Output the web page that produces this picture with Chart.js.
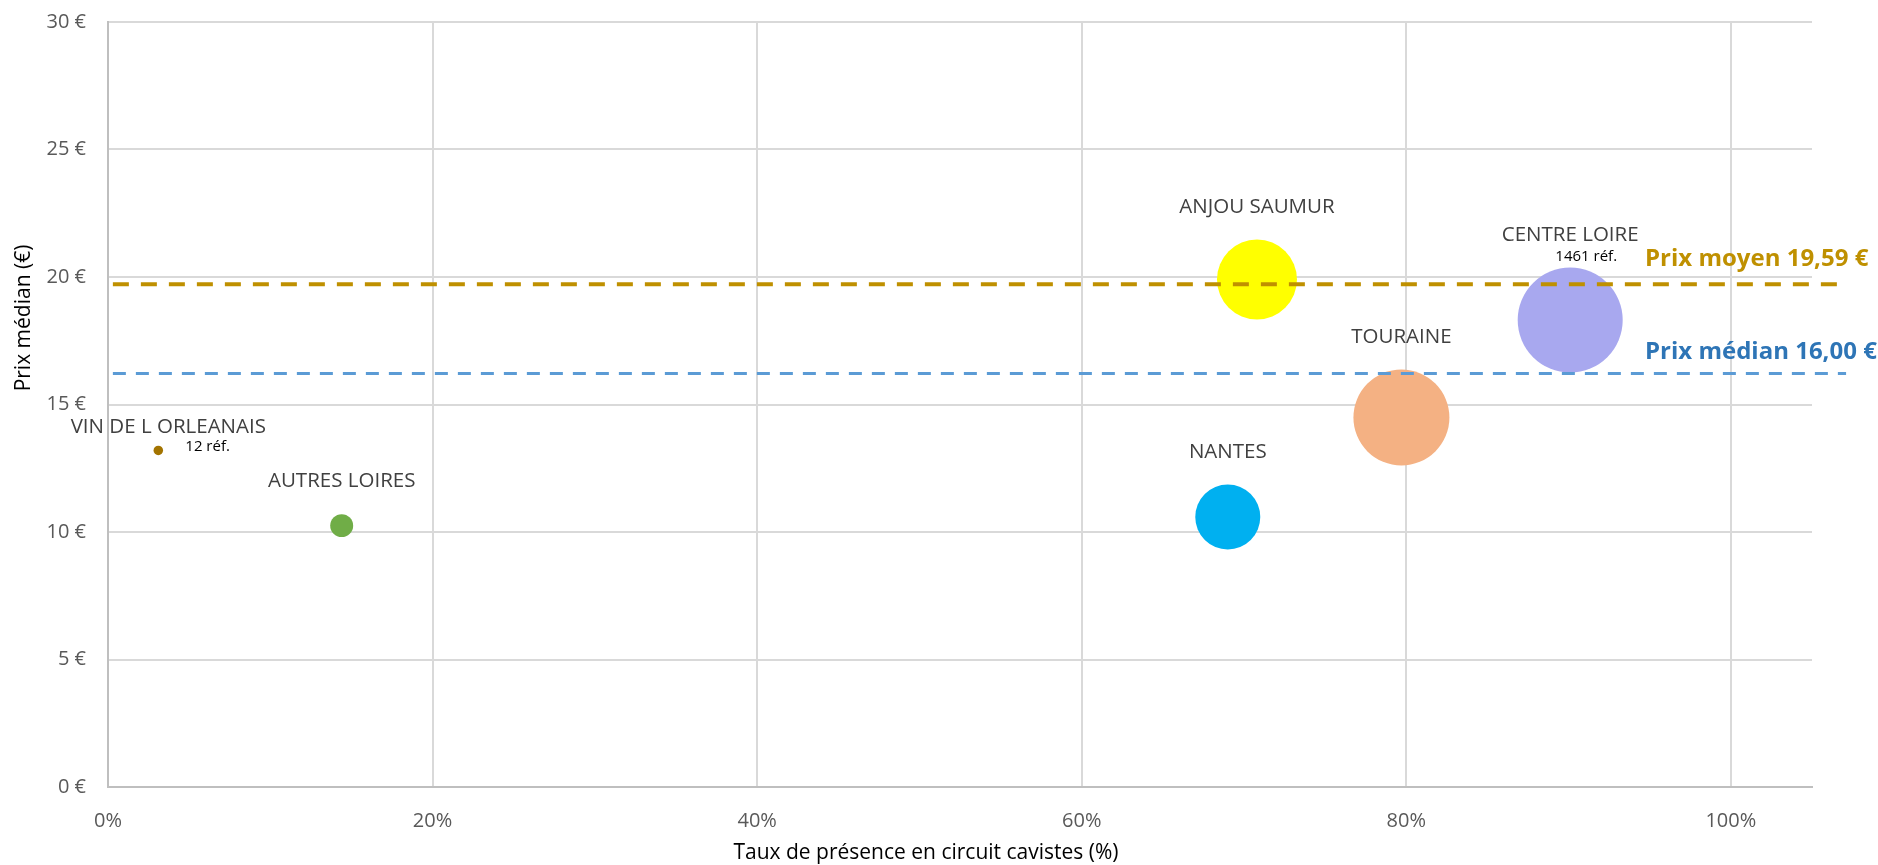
<!DOCTYPE html>
<html>
<head>
<meta charset="utf-8">
<script src="https://cdn.jsdelivr.net/npm/chart.js@4"></script>
<style>
    html, body { margin: 0; padding: 0; background: #fff; }
    #wrap { width: 1878px; height: 865px; }
</style>
</head>
<body>
<div id="wrap"><canvas id="myChart" width="1878" height="865"></canvas></div>
<script>
// données
const regions = ['VIN DE L ORLEANAIS', 'AUTRES LOIRES', 'NANTES', 'ANJOU SAUMUR', 'TOURAINE', 'CENTRE LOIRE'];
const presence = [3.1, 14.4, 69.0, 70.8, 79.7, 90.1];          // % circuit cavistes
const prixMedian = [13.2, 10.25, 10.59, 19.9, 14.49, 18.31];   // €
const nbRefs = [12, 70, 560, 848, 1221, 1461];
const refLabels = ['12 réf.', '', '', '', '', '1461 réf.'];
const colors = ['#A37400', '#70AD47', '#00B0F0', '#FFFF00', '#F4B183', '#A8A8EF'];

const xTicks = [0, 20, 40, 60, 80, 100];
const yTicks = [0, 5, 10, 15, 20, 25, 30];

const moyenLineX = [0.3, 106.7];
const moyenLineY = [19.72, 19.72];
const medianLineX = [0.3, 107.1];
const medianLineY = [16.22, 16.22];
const moyenText = 'Prix moyen 19,59 €';
const medianText = 'Prix médian 16,00 €';

const FONT = '"Open Sans", "DejaVu Sans", sans-serif';
const MAX_R = 52.5;
const maxRefs = Math.max(...nbRefs);
const radius = n => MAX_R * Math.sqrt(n / maxRefs);

// décalages des étiquettes (px) : [dx, dy] par rapport au centre de la bulle
const nameOffsets = [[10, -23], null, null, null, null, null];
const refOffsets = [[27, -4], null, null, null, null, [16, -11]];

const labelsPlugin = {
    id: 'labels',
    afterDatasetsDraw(chart) {
        const ctx = chart.ctx;
        const meta = chart.getDatasetMeta(2);
        ctx.save();
        meta.data.forEach((pt, i) => {
            const r = radius(nbRefs[i]);
            ctx.font = '20.5px ' + FONT;
            ctx.fillStyle = '#404040';
            ctx.textAlign = 'center';
            ctx.textBaseline = 'middle';
            let lx = pt.x, ly = pt.y - r - 32.5;
            if (nameOffsets[i]) { lx = pt.x + nameOffsets[i][0]; ly = pt.y + nameOffsets[i][1]; }
            ctx.fillText(regions[i], lx, ly);

            if (refLabels[i]) {
                ctx.font = '15px ' + FONT;
                ctx.fillStyle = '#000';
                if (i === 0) {
                    ctx.textAlign = 'left';
                    ctx.fillText(refLabels[i], pt.x + refOffsets[i][0], pt.y + refOffsets[i][1]);
                } else {
                    ctx.textAlign = 'center';
                    ctx.fillText(refLabels[i], pt.x + refOffsets[i][0], pt.y - r + refOffsets[i][1]);
                }
            }
        });

        // textes des lignes de référence
        const ys = chart.scales.y;
        const left = chart.chartArea.right - 167;
        ctx.textAlign = 'left';
        ctx.textBaseline = 'alphabetic';
        ctx.font = 'bold 24px ' + FONT;
        ctx.fillStyle = '#BF9000';
        ctx.fillText(moyenText, left, ys.getPixelForValue(moyenLineY[0]) - 18);
        ctx.fillStyle = '#2E75B6';
        ctx.fillText(medianText, left, ys.getPixelForValue(medianLineY[0]) - 14);

        // titres des axes
        ctx.fillStyle = '#000';
        ctx.font = '21px ' + FONT;
        ctx.textAlign = 'center';
        ctx.textBaseline = 'middle';
        ctx.fillText('Taux de présence en circuit cavistes (%)', 926, 853);
        ctx.translate(24, 318);
        ctx.rotate(-Math.PI / 2);
        ctx.fillText('Prix médian (€)', 0, 0);
        ctx.restore();
    }
};

function drawChart() {
    const ctx = document.getElementById('myChart').getContext('2d');

    const data = {
        datasets: [
            {
                type: 'line',
                label: moyenText,
                data: moyenLineX.map((x, i) => ({ x: x, y: moyenLineY[i] })),
                borderColor: '#BF9000',
                borderWidth: 4,
                borderDash: [16, 12],
                pointRadius: 0,
                fill: false,
                clip: false,
                order: 0
            },
            {
                type: 'line',
                label: medianText,
                data: medianLineX.map((x, i) => ({ x: x, y: medianLineY[i] })),
                borderColor: '#5B9BD5',
                borderWidth: 3,
                borderDash: [13, 10],
                pointRadius: 0,
                fill: false,
                clip: false,
                order: 0
            },
            {
                type: 'bubble',
                label: 'Régions',
                data: regions.map((r, i) => ({ x: presence[i], y: prixMedian[i], r: radius(nbRefs[i]) })),
                backgroundColor: colors,
                borderWidth: 0,
                order: 1
            }
        ]
    };

    new Chart(ctx, {
        type: 'bubble',
        data: data,
        plugins: [labelsPlugin],
        options: {
            responsive: false,
            animation: false,
            layout: { autoPadding: false, padding: { top: 22, right: 66, left: 0, bottom: 0 } },
            plugins: {
                legend: { display: false },
                tooltip: { enabled: false }
            },
            scales: {
                x: {
                    type: 'linear',
                    min: 0,
                    max: 105,
                    afterBuildTicks: s => { s.ticks = xTicks.map(v => ({ value: v })); },
                    afterFit: s => { s.height = 78; s.paddingLeft = 0; s.paddingRight = 0; },
                    grid: { color: '#D9D9D9', lineWidth: 2, drawTicks: false },
                    border: { color: '#BFBFBF', width: 2 },
                    ticks: {
                        padding: 22,
                        color: '#595959',
                        font: { family: FONT, size: 20 },
                        callback: v => v + '%'
                    }
                },
                y: {
                    min: 0,
                    max: 30,
                    afterBuildTicks: s => { s.ticks = yTicks.map(v => ({ value: v })); },
                    afterFit: s => { s.width = 108; s.paddingTop = 0; s.paddingBottom = 0; },
                    grid: { color: '#D9D9D9', lineWidth: 2, drawTicks: false },
                    border: { color: '#BFBFBF', width: 2 },
                    ticks: {
                        padding: 22,
                        color: '#595959',
                        font: { family: FONT, size: 20 },
                        callback: v => v + ' €'
                    }
                }
            }
        }
    });
}

drawChart();
</script>
</body>
</html>
